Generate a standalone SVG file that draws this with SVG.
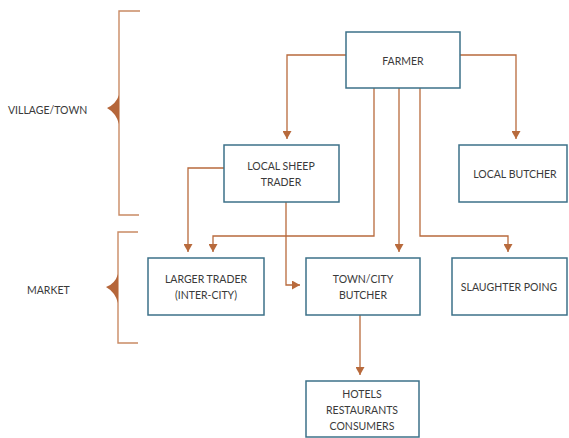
<svg xmlns="http://www.w3.org/2000/svg" width="569" height="438" viewBox="0 0 569 438">
<style>
.box{fill:#fff;stroke:#3d7189;stroke-width:1.5}
.t{font-family:Lato,"Open Sans",sans-serif;font-size:10.5px;fill:#3a3a3a;text-anchor:middle}
.c{fill:none;stroke:#b86a3c;stroke-width:1.3}
.br{fill:none;stroke:#c98a64;stroke-width:1.4}
.lbl{font-family:Lato,"Open Sans",sans-serif;font-size:10.5px;fill:#3a3a3a}
</style>
<defs>
<marker id="ah" markerWidth="10" markerHeight="9" refX="8" refY="4.5" orient="auto" markerUnits="userSpaceOnUse">
<path d="M0,0 L8,4.5 L0,9 Z" fill="#b86a3c"/>
</marker>
</defs>
<g id="brackets">
<path class="br" d="M140,11 H119 V215 H139"/>
<path d="M119,95 Q116,104 107,108 Q116,113 119,124 Z" fill="#b5663a"/>
<path class="br" d="M138,232 H118 V343 H138"/>
<path d="M118,274 Q115,284 106,287 Q115,292 118,303 Z" fill="#b5663a"/>
<text class="lbl" x="8" y="114">VILLAGE/TOWN</text>
<text class="lbl" x="27" y="294">MARKET</text>
</g>
<g id="connectors">
<path class="c" marker-end="url(#ah)" d="M346,55 H287 V139"/>
<path class="c" marker-end="url(#ah)" d="M460,55 H516 V139"/>
<path class="c" marker-end="url(#ah)" d="M374,88 V236 H213 V252"/>
<path class="c" marker-end="url(#ah)" d="M399,88 V252"/>
<path class="c" marker-end="url(#ah)" d="M420,88 V236 H508 V252"/>
<path class="c" marker-end="url(#ah)" d="M224,168 H188 V252"/>
<path class="c" marker-end="url(#ah)" d="M286,202 V285 H300"/>
<path class="c" marker-end="url(#ah)" d="M360,315 V375"/>
</g>
<g id="farmer"><rect class="box" x="346" y="32" width="114" height="56"/><text class="t" x="403" y="65">FARMER</text></g>
<g id="local-sheep-trader"><rect class="box" x="224" y="145" width="115" height="57"/><text class="t" x="281" y="170">LOCAL SHEEP</text><text class="t" x="281" y="186">TRADER</text></g>
<g id="local-butcher"><rect class="box" x="459" y="145" width="108" height="57"/><text class="t" x="515" y="178">LOCAL BUTCHER</text></g>
<g id="larger-trader"><rect class="box" x="148" y="258" width="116" height="57"/><text class="t" x="206" y="283">LARGER TRADER</text><text class="t" x="206" y="299">(INTER-CITY)</text></g>
<g id="town-city-butcher"><rect class="box" x="306" y="258" width="114" height="57"/><text class="t" x="363" y="283">TOWN/CITY</text><text class="t" x="363" y="299">BUTCHER</text></g>
<g id="slaughter-poing"><rect class="box" x="452" y="258" width="115" height="57"/><text class="t" x="509" y="291">SLAUGHTER POING</text></g>
<g id="hotels"><rect class="box" x="306" y="381" width="113" height="56"/><text class="t" x="362" y="398">HOTELS</text><text class="t" x="362" y="414">RESTAURANTS</text><text class="t" x="362" y="430">CONSUMERS</text></g>
</svg>
